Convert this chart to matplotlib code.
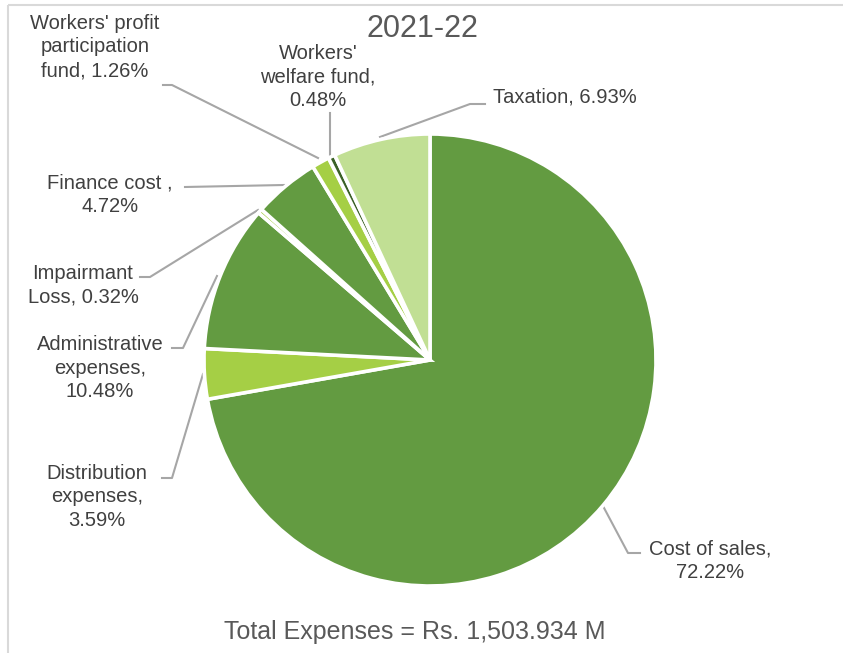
import matplotlib
matplotlib.use("Agg")
import matplotlib.pyplot as plt
from matplotlib.patches import Rectangle

categories = ["Cost of sales", "Distribution\nexpenses", "Administrative\nexpenses",
              "Impairmant\nLoss", "Finance cost ,", "Workers' profit\nparticipation\nfund",
              "Workers'\nwelfare fund,", "Taxation"]
values = [72.22, 3.59, 10.48, 0.32, 4.72, 1.26, 0.48, 6.93]
label_texts = ["Cost of sales,\n72.22%", "Distribution\nexpenses,\n3.59%",
               "Administrative\nexpenses,\n10.48%", "Impairmant\nLoss, 0.32%",
               "Finance cost ,\n4.72%", "Workers' profit\nparticipation\nfund, 1.26%",
               "Workers'\nwelfare fund,\n0.48%", "Taxation, 6.93%"]
colors = ["#639B41", "#A5CF45", "#639B41", "#A5CF45", "#639B41", "#A5CF45", "#3B6127", "#C1DF94"]

plt.rcParams['font.family'] = ['Liberation Sans', 'DejaVu Sans']

W, H = 843, 653
fig = plt.figure(figsize=(W / 100, H / 100), dpi=100)

# light frame
frame_ax = fig.add_axes([0, 0, 1, 1])
frame_ax.set_xlim(0, W)
frame_ax.set_ylim(H, 0)
frame_ax.axis("off")
frame_ax.add_patch(Rectangle((8, 5), W + 20, H + 20, fill=False, edgecolor="#D9D9D9", lw=1.5))

cx, cy, r = 430, 360, 226
ax = fig.add_axes([(cx - r) / W, (H - cy - r) / H, 2 * r / W, 2 * r / H])
ax.pie(values, colors=colors, startangle=90, counterclock=False,
       wedgeprops=dict(edgecolor="white", linewidth=2.6))
ax.set_xlim(-1, 1)
ax.set_ylim(-1, 1)
ax.set_aspect("equal")

txt_col = "#404040"
line_col = "#A6A6A6"
fs = 14.5

# label positions (text centers in pixel coords) and leader polylines
labels_pos = [
    (710, 561, [(603, 506), (628, 553), (640, 553)]),
    (97, 497, [(203, 374), (172, 478), (162, 478)]),
    (100, 368, [(217, 276), (183, 348), (172, 348)]),
    (83, 285, [(258, 210), (150, 277), (140, 277)]),
    (110, 195, [(284, 185), (185, 187)]),
    (95, 47, [(318, 158), (172, 85), (163, 85)]),
    (318, 77, [(330, 155), (330, 113)]),
    (565, 97, [(380, 137), (470, 104), (485, 104)]),
]
for (tx, ty, pts), lab in zip(labels_pos, label_texts):
    frame_ax.text(tx, ty, lab, ha="center", va="center", fontsize=fs, color=txt_col,
                  linespacing=1.33, zorder=5)
    xs = [p[0] for p in pts]
    ys = [p[1] for p in pts]
    frame_ax.plot(xs, ys, color=line_col, lw=1.5, zorder=4)

frame_ax.text(422, 29, "2021-22", ha="center", va="center", fontsize=22, color="#595959")
frame_ax.text(415, 632, "Total Expenses = Rs. 1,503.934 M", ha="center", va="center",
              fontsize=18, color="#595959")

fig.savefig("out.png", dpi=100)
